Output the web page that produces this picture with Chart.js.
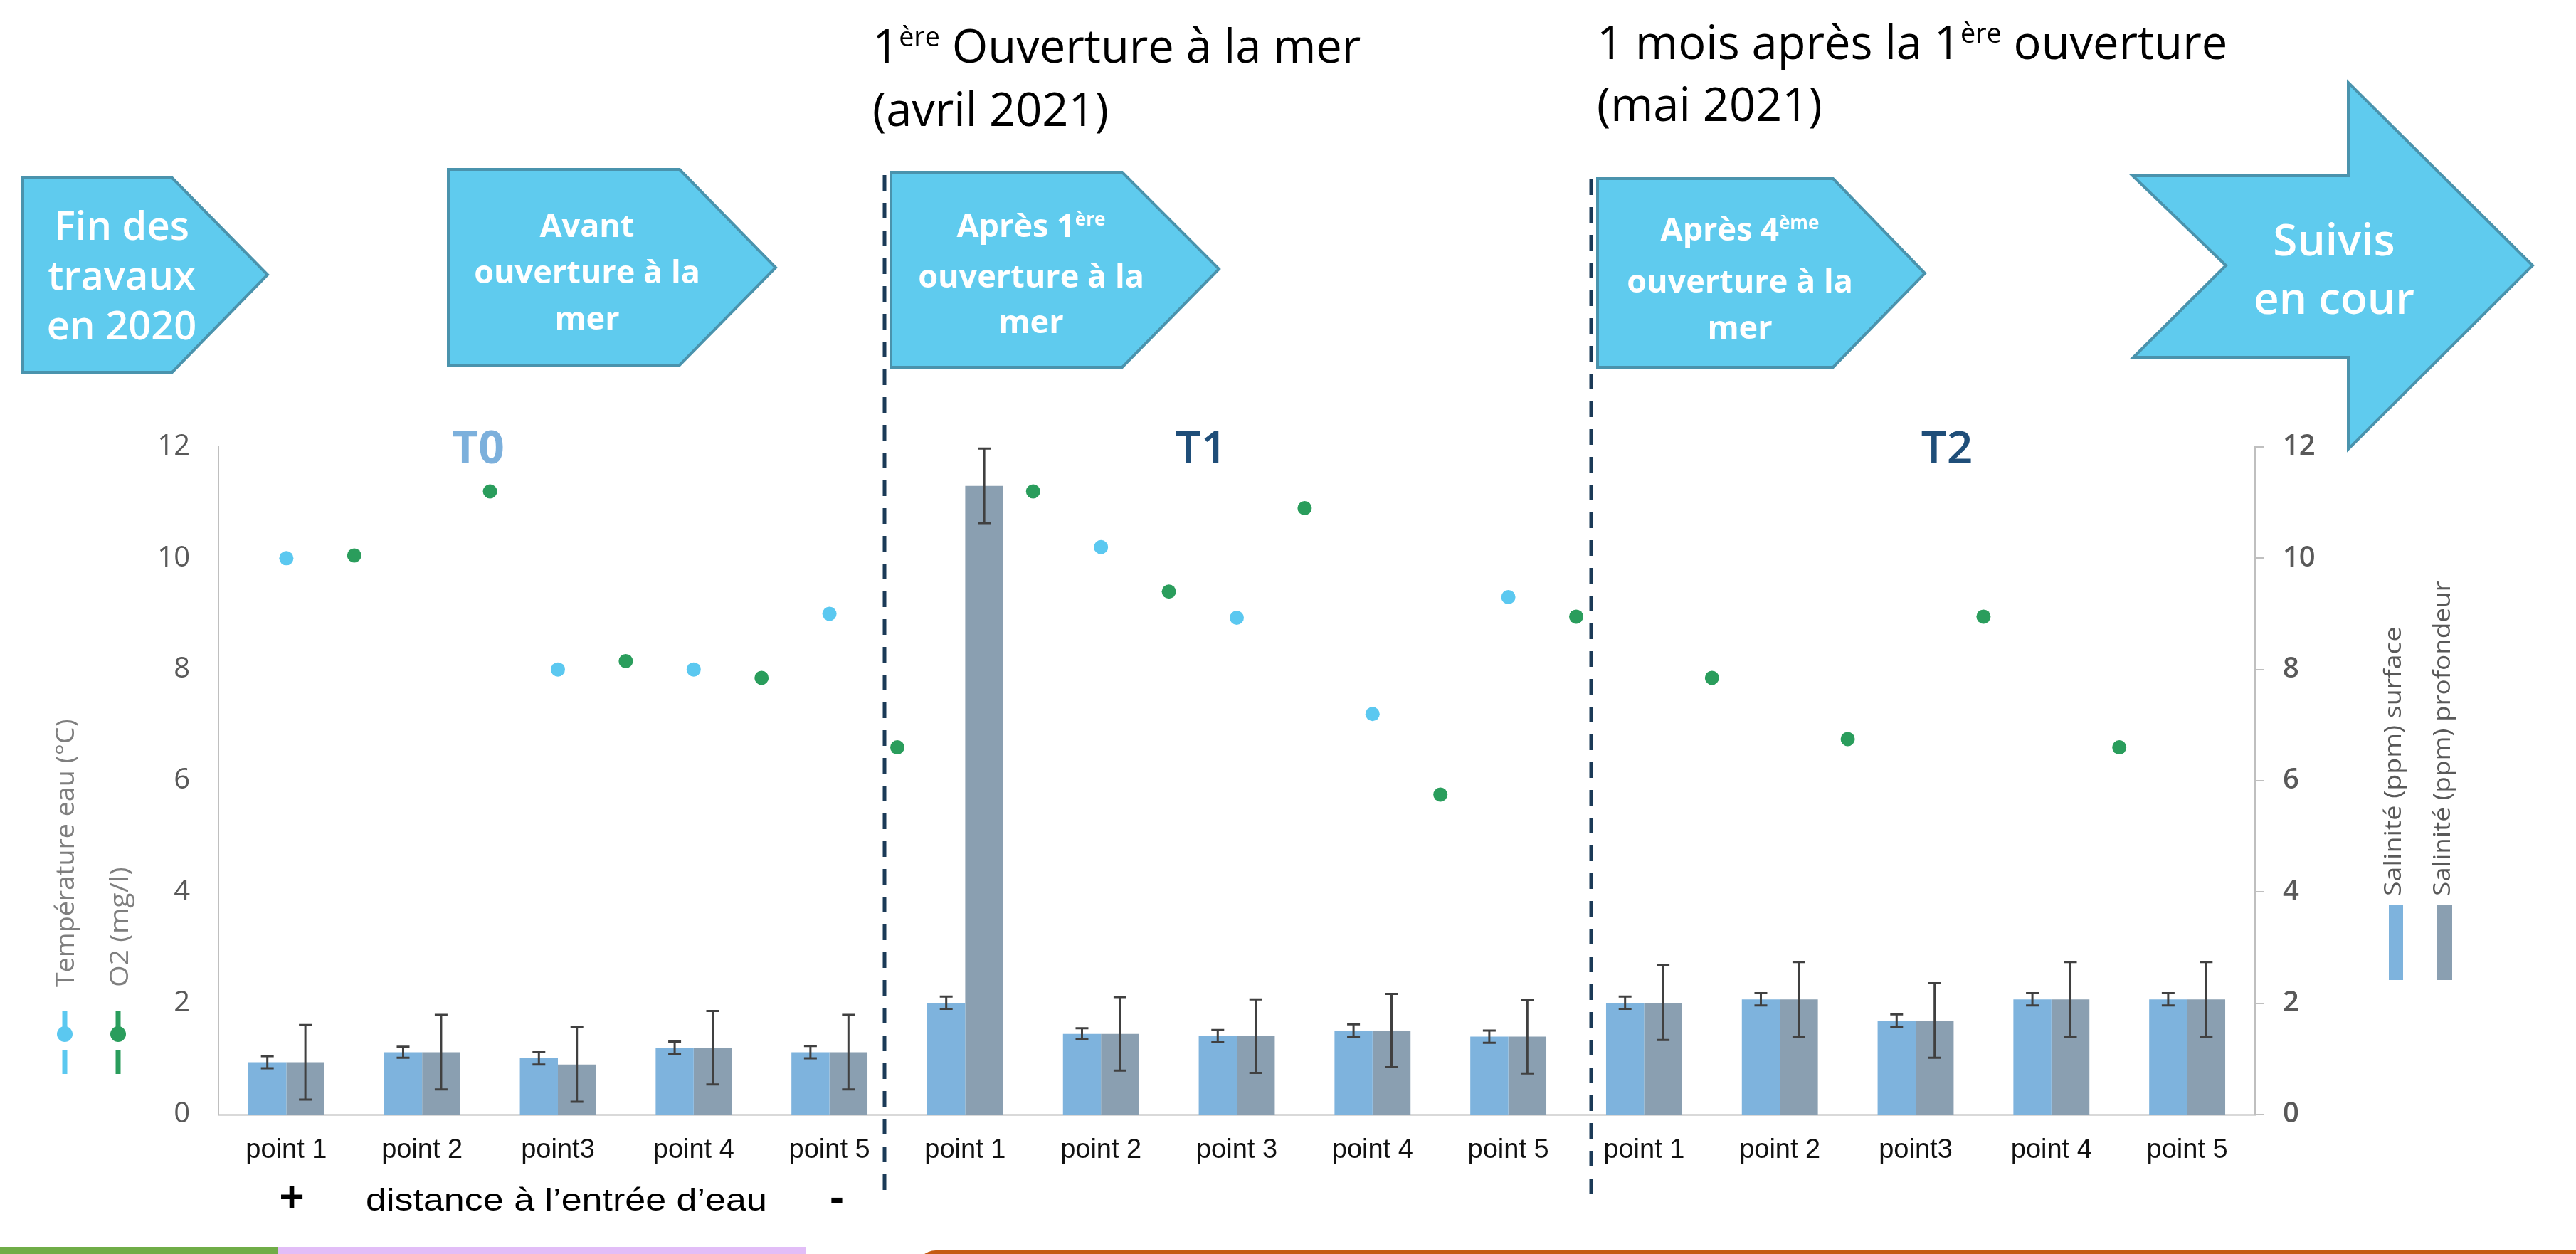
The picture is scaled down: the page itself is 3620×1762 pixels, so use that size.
<!DOCTYPE html>
<html>
<head>
<meta charset="utf-8">
<script src="https://cdn.jsdelivr.net/npm/chart.js@4.4.0/dist/chart.umd.min.js"></script>
<style>
html,body{margin:0;padding:0;background:#fff;}
#wrap{position:relative;width:3620px;height:1762px;overflow:hidden;background:#fff;font-family:'Open Sans',sans-serif;}
#c{position:absolute;left:0;top:0;}
#ov{position:absolute;left:0;top:0;}
.t{position:absolute;white-space:nowrap;}
.title{font-size:65px;color:#000;font-weight:400;}
.arr{color:#fff;text-align:center;width:500px;}
.sup{font-size:58%;position:relative;top:-0.6em;}
.rot{transform-origin:0 0;}
.ser{font-size:64px;text-align:center;width:200px;line-height:80px;}
</style>
</head>
<body>
<div id="wrap">
<canvas id="c" width="3620" height="1762"></canvas>
<svg id="ov" width="3620" height="1762" xmlns="http://www.w3.org/2000/svg">
  <g fill="#5FCBEE" stroke="#4A93AD" stroke-width="4" stroke-linejoin="miter">
    <polygon points="32,250 242,250 376,386 242,523 32,523"/>
    <polygon points="630,238 955,238 1090,376 955,513 630,513"/>
    <polygon points="1252,242 1577,242 1713,378 1577,516 1252,516"/>
    <polygon points="2245,251 2576,251 2705,384 2576,516 2245,516"/>
    <polygon points="2997,247 3300,247 3300,116 3559,373 3300,631 3300,502 2998,502 3128,373"/>
  </g>
  <g stroke="#1B3A57" stroke-width="5" stroke-dasharray="22 17">
    <line x1="1243" y1="246" x2="1243" y2="1686"/>
    <line x1="2236" y1="252" x2="2236" y2="1684"/>
  </g>
  <g stroke-width="7" stroke-linecap="butt">
    <line x1="91" y1="1420" x2="91" y2="1448" stroke="#5BC8F0"/>
    <circle cx="91" cy="1453" r="11" fill="#5BC8F0" stroke="none"/>
    <line x1="91" y1="1475" x2="91" y2="1509" stroke="#5BC8F0"/>
    <line x1="166" y1="1420" x2="166" y2="1448" stroke="#2A9D5C"/>
    <circle cx="166" cy="1453" r="11" fill="#2A9D5C" stroke="none"/>
    <line x1="166" y1="1475" x2="166" y2="1509" stroke="#2A9D5C"/>
  </g>
  <rect x="3357" y="1272" width="20" height="105" fill="#7EB3DD"/>
  <rect x="3425" y="1272" width="21" height="105" fill="#8A9FB1"/>
</svg>

<div class="t title" style="left:1226px;top:24px;line-height:79px;">1<span class="sup">ère</span> Ouverture à la mer<br>(avril 2021)</div>
<div class="t title" style="left:2244px;top:20px;line-height:77px;">1 mois après la 1<span class="sup">ère</span> ouverture<br>(mai 2021)</div>

<div class="t arr" style="left:-79px;top:280px;font-size:56px;font-weight:600;line-height:70px;">Fin des<br>travaux<br>en 2020</div>
<div class="t arr" style="left:575px;top:283px;font-size:45px;font-weight:700;line-height:65px;">Avant<br>ouverture à la<br>mer</div>
<div class="t arr" style="left:1199px;top:284px;font-size:45px;font-weight:700;line-height:64px;">Après 1<span class="sup">ère</span><br>ouverture à la<br>mer</div>
<div class="t arr" style="left:2195px;top:288px;font-size:45px;font-weight:700;line-height:65px;">Après 4<span class="sup">ème</span><br>ouverture à la<br>mer</div>
<div class="t arr" style="left:3030px;top:294px;font-size:62px;font-weight:600;line-height:82px;">Suivis<br>en cour</div>

<div class="t ser" style="left:572px;top:587px;color:#7CB0DC;font-weight:700;">T0</div>
<div class="t ser" style="left:1588px;top:587px;color:#1F4E79;font-weight:600;">T1</div>
<div class="t ser" style="left:2636px;top:587px;color:#1F4E79;font-weight:600;">T2</div>

<div class="t rot fit" data-w="377" style="left:69px;top:1387px;font-size:37px;line-height:42px;color:#7F7F7F;">Température eau (°C)</div>
<div class="t rot fit" data-w="169" style="left:145px;top:1387px;font-size:37px;line-height:42px;color:#7F7F7F;">O2 (mg/l)</div>
<div class="t rot fit" data-w="379" style="left:3343px;top:1259px;font-size:33px;line-height:38px;color:#595959;">Salinité (ppm) surface</div>
<div class="t rot fit" data-w="443" style="left:3412px;top:1259px;font-size:33px;line-height:38px;color:#595959;">Salinité (ppm) profondeur</div>

<div class="t" style="left:360px;width:100px;text-align:center;top:1647px;font-family:'Liberation Sans',Arial,sans-serif;font-weight:700;font-size:60px;line-height:70px;color:#000;">+</div>
<div class="t fitx" data-w="564" style="left:514px;top:1661px;font-family:'Liberation Sans',Arial,sans-serif;font-size:45px;line-height:50px;color:#000;transform-origin:0 0;">distance à l’entrée d’eau</div>
<div class="t" style="left:1126px;width:100px;text-align:center;top:1647px;font-family:'Liberation Sans',Arial,sans-serif;font-weight:700;font-size:60px;line-height:70px;color:#000;">-</div>

<div class="t" style="left:0;top:1752px;width:390px;height:10px;background:#70AD47;"></div>
<div class="t" style="left:390px;top:1752px;width:742px;height:10px;background:#E2BDF7;"></div>
<div class="t" style="left:1287px;top:1757px;width:2400px;height:60px;border-radius:28px;background:#C55A11;"></div>
</div>

<script>
// ---- data ----
const categories = ["point 1","point 2","point3","point 4","point 5",
                    "point 1","point 2","point 3","point 4","point 5",
                    "point 1","point 2","point3","point 4","point 5"];
const salSurface    = [0.94, 1.12, 1.01, 1.20, 1.12, 2.01, 1.45, 1.41, 1.51, 1.40, 2.01, 2.07, 1.69, 2.07, 2.07];
const salSurfaceErr = [0.11, 0.10, 0.11, 0.11, 0.11, 0.11, 0.10, 0.11, 0.11, 0.11, 0.11, 0.11, 0.11, 0.11, 0.11];
const salProfondeur    = [0.94, 1.12, 0.90, 1.20, 1.12, 11.30, 1.45, 1.41, 1.51, 1.40, 2.01, 2.07, 1.69, 2.07, 2.07];
const salProfondeurErr = [0.67, 0.67, 0.67, 0.66, 0.67, 0.67, 0.66, 0.66, 0.66, 0.66, 0.67, 0.67, 0.67, 0.67, 0.67];
const temperature = [10.0, null, 8.0, 8.0, 9.0, null, 10.2, 8.93, 7.2, 9.3, null, null, null, null, null];
const oxygen      = [10.05, 11.2, 8.15, 7.85, 6.6, 11.2, 9.4, 10.9, 5.75, 8.95, 7.85, 6.75, 8.95, 6.6, null];
const yTicks = [0, 2, 4, 6, 8, 10, 12];

// fit text widths
document.querySelectorAll('.fit').forEach(el => {
  const s = (+el.dataset.w) / el.offsetWidth;
  el.style.transform = 'rotate(-90deg) scaleX(' + s + ')';
});
document.querySelectorAll('.fitx').forEach(el => {
  const s = (+el.dataset.w) / el.offsetWidth;
  el.style.transform = 'scaleX(' + s + ')';
});

// category index (plus shift) -> point on the shared linear x scale
const toPoints = (arr, shift) => arr.map((v, i) => v == null ? null : {x: i + shift, y: v}).filter(Boolean);

const errorBars = {
  id: 'errorBars',
  afterDatasetsDraw(chart) {
    const ctx = chart.ctx, ys = chart.scales.y;
    [[0, salSurface, salSurfaceErr], [1, salProfondeur, salProfondeurErr]].forEach(([di, vals, errs]) => {
      const meta = chart.getDatasetMeta(di);
      meta.data.forEach((bar, i) => {
        const v = vals[i], e = errs[i];
        if (v == null || e == null) return;
        const yt = ys.getPixelForValue(v + e), yb = ys.getPixelForValue(v - e);
        ctx.save();
        ctx.strokeStyle = '#404040';
        ctx.lineWidth = 3;
        ctx.beginPath();
        ctx.moveTo(bar.x, yt); ctx.lineTo(bar.x, yb);
        ctx.moveTo(bar.x - 9, yt); ctx.lineTo(bar.x + 9, yt);
        ctx.moveTo(bar.x - 9, yb); ctx.lineTo(bar.x + 9, yb);
        ctx.stroke();
        ctx.restore();
      });
    });
  }
};

const tickCb = v => yTicks.includes(v) ? String(v) : '';

new Chart(document.getElementById('c'), {
  type: 'bar',
  data: {
    datasets: [
      {label: 'Salinité (ppm) surface', data: toPoints(salSurface, 0), backgroundColor: '#7EB3DD',
       xAxisID: 'x', yAxisID: 'y', categoryPercentage: 0.56, barPercentage: 1.0, order: 3},
      {label: 'Salinité (ppm) profondeur', data: toPoints(salProfondeur, 0), backgroundColor: '#8A9FB1',
       xAxisID: 'x', yAxisID: 'y', categoryPercentage: 0.56, barPercentage: 1.0, order: 3},
      {type: 'scatter', label: 'Température eau (°C)', data: toPoints(temperature, 0),
       xAxisID: 'x', yAxisID: 'y', pointRadius: 10, pointBackgroundColor: '#5BC8F0',
       pointBorderWidth: 0, showLine: false, order: 1},
      {type: 'scatter', label: 'O2 (mg/l)', data: toPoints(oxygen, 0.5),
       xAxisID: 'x', yAxisID: 'y', pointRadius: 10, pointBackgroundColor: '#2A9D5C',
       pointBorderWidth: 0, showLine: false, order: 1}
    ]
  },
  options: {
    responsive: false,
    animation: false,
    devicePixelRatio: 1,
    layout: {padding: {top: 628, left: 0, right: 0, bottom: 0}},
    plugins: {legend: {display: false}, tooltip: {enabled: false}},
    scales: {
      x: {
        type: 'linear', position: 'bottom', min: -0.5, max: 14.5, offset: false,
        grid: {display: false, drawTicks: false, offset: false},
        border: {display: true, color: '#D9D9D9', width: 3},
        afterBuildTicks: s => { s.ticks = categories.map((_, i) => ({value: i})); },
        ticks: {color: '#111', font: {family: "'Liberation Sans', Arial, sans-serif", size: 38},
                callback: v => categories[v] ?? '',
                padding: 28, maxRotation: 0, minRotation: 0, autoSkip: false},
        afterFit: s => { s.height = 196; }
      },
      y: {
        position: 'left', min: 0, max: 12, stacked: false,
        grid: {display: false, drawTicks: false},
        border: {display: true, color: '#BFBFBF', width: 2},
        ticks: {stepSize: 2, callback: tickCb, color: '#595959',
                font: {family: "'Open Sans', sans-serif", size: 40}, padding: 40},
        afterFit: s => { s.width = 307; }
      },
      y2: {
        position: 'right', min: 0, max: 12,
        grid: {display: true, drawOnChartArea: false, drawTicks: true, tickLength: 13, color: '#BFBFBF', lineWidth: 2},
        border: {display: true, color: '#BFBFBF', width: 3},
        ticks: {stepSize: 2, callback: tickCb, color: '#595959',
                font: {family: "'Open Sans', sans-serif", size: 40, weight: '600'}, padding: 26},
        afterFit: s => { s.width = 451; }
      }
    }
  },
  plugins: [errorBars]
});
</script>
</body>
</html>
